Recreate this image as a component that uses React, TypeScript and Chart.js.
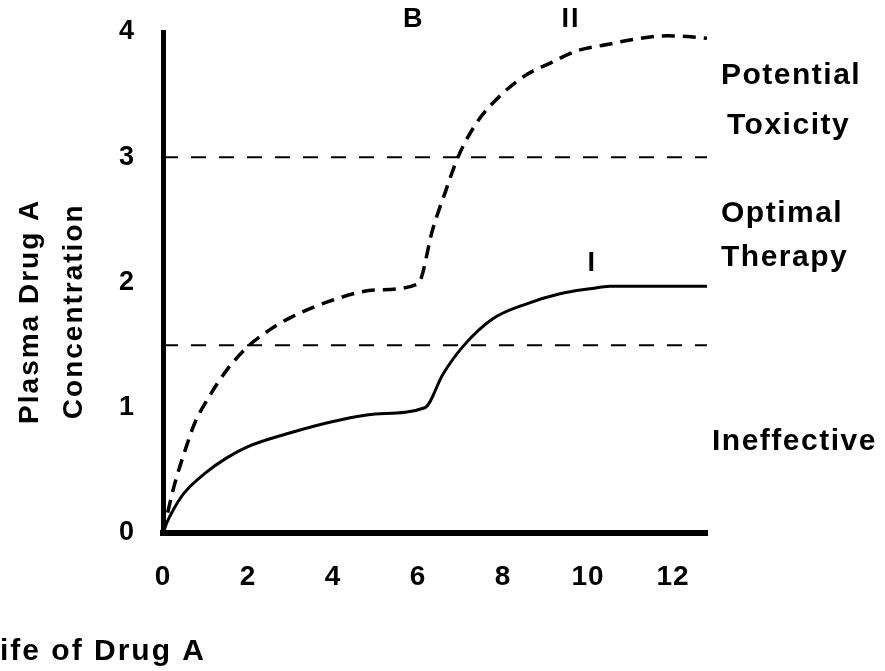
import { useEffect, useRef } from "react";
import { Chart, registerables } from "chart.js";

Chart.register(...registerables);

// ---- data ----
const curveIX = [0, 0.1, 0.25, 0.5, 1, 1.5, 2, 3, 4, 5, 6.16, 6.59, 7.06, 7.76, 8.56, 9.34, 10.05, 10.52, 11.5, 12.8];
const curveIY = [0, 0.09, 0.19, 0.32, 0.48, 0.6, 0.69, 0.8, 0.89, 0.95, 1.0, 1.27, 1.49, 1.71, 1.83, 1.91, 1.95, 1.97, 1.97, 1.97];

const curveIIX = [0, 0.25, 0.5, 0.75, 1, 1.5, 2, 2.5, 3, 4, 5, 6.0, 6.35, 6.64, 6.94, 7.39, 7.93, 8.56, 9.1, 9.74, 10.45, 11.06, 11.86, 12.47, 12.8];
const curveIIY = [0, 0.36, 0.64, 0.88, 1.04, 1.3, 1.49, 1.62, 1.72, 1.86, 1.94, 1.99, 2.43, 2.72, 3.0, 3.28, 3.49, 3.66, 3.75, 3.85, 3.9, 3.94, 3.97, 3.96, 3.95];

const thresholdLevels = [3, 1.5];
const xMin = 0;
const xMax = 12.8;
const yMin = 0;
const yMax = 4;
const xTickStep = 2;
const yTickStep = 1;

const yTitleLines = ["Plasma Drug A", "Concentration"];
const zoneLabels = ["Potential", "Toxicity", "Optimal", "Therapy", "Ineffective"];
const zoneLabelLevels = [3.65, 3.25, 2.55, 2.2, 0.73];
const curveLabels = ["B", "II", "I"];
const curveLabelX = [5.9, 9.6, 10.1];
const curveLabelY = [4.1, 4.1, 2.15];
const footerText = "ife of Drug A";

// ---- layout / style (not data) ----
const W = 885;
const H = 671;
const FONT = "'Liberation Sans', Arial, Helvetica, sans-serif";
const zoneLabelLeft = [721, 727, 721, 721, 712];
const yTitleX = [30, 74];

const annotationPlugin = {
  id: "annotations",
  beforeDraw(chart: any) {
    chart.ctx.letterSpacing = "1px";
  },
  afterDraw(chart: any) {
    const { ctx, scales } = chart;
    const xs = scales.x;
    const ys = scales.y;
    ctx.save();
    ctx.fillStyle = "#000";
    ctx.letterSpacing = "2px";
    ctx.font = `bold 28px ${FONT}`;
    ctx.textAlign = "center";
    ctx.textBaseline = "middle";
    const midY = ys.getPixelForValue(1.77);
    yTitleLines.forEach((t, i) => {
      ctx.save();
      ctx.translate(yTitleX[i], midY);
      ctx.rotate(-Math.PI / 2);
      ctx.fillText(t, 0, 0);
      ctx.restore();
    });

    ctx.textAlign = "left";
    ctx.letterSpacing = "1.5px";
    ctx.font = `bold 30px ${FONT}`;
    zoneLabels.forEach((t, i) => {
      ctx.fillText(t, zoneLabelLeft[i], ys.getPixelForValue(zoneLabelLevels[i]));
    });

    ctx.textAlign = "center";
    ctx.letterSpacing = "2px";
    ctx.font = `bold 27px ${FONT}`;
    curveLabels.forEach((t, i) => {
      ctx.fillText(t, xs.getPixelForValue(curveLabelX[i]), ys.getPixelForValue(curveLabelY[i]));
    });

    ctx.textAlign = "left";
    ctx.font = `bold 30px ${FONT}`;
    ctx.fillText(footerText, 0, 652);
    ctx.restore();
  },
};

export default function App() {
  const ref = useRef<HTMLCanvasElement | null>(null);

  useEffect(() => {
    if (!ref.current) return;
    const pts = (xs: number[], ys: number[]) => xs.map((x, i) => ({ x, y: ys[i] }));
    const thresholdSets = thresholdLevels.map((lv) => ({
      label: `threshold ${lv}`,
      data: [
        { x: xMin, y: lv },
        { x: xMax, y: lv },
      ],
      borderColor: "#000",
      borderWidth: 2,
      borderDash: [15, 13],
      pointRadius: 0,
      tension: 0,
    }));

    const chart = new Chart(ref.current, {
      type: "line",
      data: {
        datasets: [
          ...thresholdSets,
          {
            label: "I",
            data: pts(curveIX, curveIY),
            borderColor: "#000",
            borderWidth: 3,
            pointRadius: 0,
            cubicInterpolationMode: "monotone",
          },
          {
            label: "II",
            data: pts(curveIIX, curveIIY),
            borderColor: "#000",
            borderWidth: 3.5,
            borderDash: [13, 8],
            pointRadius: 0,
            cubicInterpolationMode: "monotone",
          },
        ] as any,
      },
      options: {
        animation: false,
        responsive: false,
        devicePixelRatio: 1,
        layout: { padding: { left: 103, right: W - 707, top: 32, bottom: 68 } },
        plugins: { legend: { display: false }, tooltip: { enabled: false } },
        scales: {
          x: {
            type: "linear",
            min: xMin,
            max: xMax,
            afterFit: (axis: any) => {
              axis.height = 70;
              axis.paddingLeft = 0;
              axis.paddingRight = 0;
            },
            afterBuildTicks: (axis: any) => {
              const t = [];
              for (let v = xMin; v <= xMax; v += xTickStep) t.push({ value: v });
              axis.ticks = t;
            },
            grid: { display: true, color: "rgba(0,0,0,0)", drawTicks: false },
            border: { display: true, color: "#000", width: 6 },
            ticks: {
              color: "#000",
              padding: 27,
              font: { family: FONT, size: 28, weight: "bold" },
              maxRotation: 0,
              autoSkip: false,
            },
          },
          y: {
            type: "linear",
            min: yMin,
            max: yMax,
            afterFit: (axis: any) => {
              axis.width = 60;
              axis.paddingTop = 0;
              axis.paddingBottom = 0;
            },
            grid: { display: true, color: "rgba(0,0,0,0)", drawTicks: false },
            border: { display: true, color: "#000", width: 5 },
            ticks: {
              color: "#000",
              padding: 28,
              stepSize: yTickStep,
              font: { family: FONT, size: 27, weight: "bold" },
            },
          },
        },
      } as any,
      plugins: [annotationPlugin],
    });
    return () => chart.destroy();
  }, []);

  return (
    <div style={{ position: "absolute", left: 0, top: 0, width: W, height: H, background: "#fff" }}>
      <canvas ref={ref} width={W} height={H} style={{ width: W, height: H }} />
    </div>
  );
}
